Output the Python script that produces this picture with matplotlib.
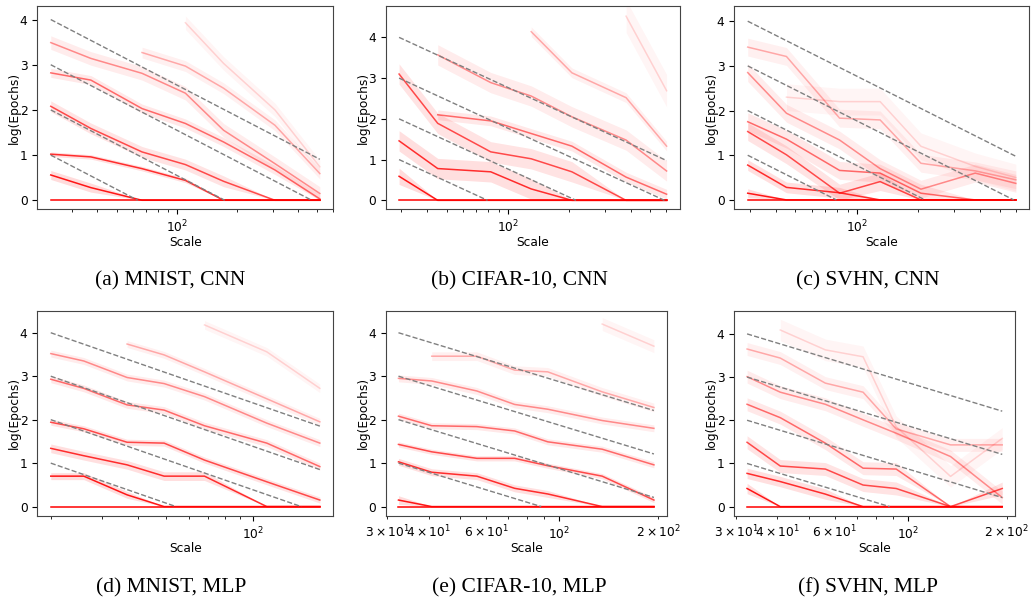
import numpy as np
import matplotlib
matplotlib.use("Agg")
import matplotlib.pyplot as plt

nan = np.nan

# Model scale for each setting (log-spaced widths)
scale_mnist_cnn = [23.4, 37.1, 66.8, 110, 170.6, 308, 516]
scale_32px_cnn = [29.2, 45.2, 82.3, 130, 206, 380, 601]
scale_mnist_mlp = [19.9, 25.9, 36.6, 49.2, 67.9, 111.7, 170.6]
scale_32px_mlp = [32.4, 40.9, 56.1, 73.1, 92.2, 135, 194]

# log(epochs) needed to reach each accuracy target (darkest = easiest target)
mnist_cnn = [
    [0, 0, 0, 0, 0, 0, 0],
    [0.56, 0.28, 0, 0, 0, 0, 0],
    [1.02, 0.96, 0.70, 0.44, 0, 0, 0],
    [2.08, 1.59, 1.07, 0.79, 0.42, 0, 0],
    [2.82, 2.66, 2.03, 1.70, 1.29, 0.67, 0.03],
    [3.49, 3.14, 2.81, 2.37, 1.55, 0.81, 0.15],
    [nan, nan, 3.27, 2.97, 2.48, 1.66, 0.59],
    [nan, nan, nan, 3.93, 3.03, 2.00, 0.74],
]
cifar_cnn = [
    [0, 0, 0, 0, 0, 0, 0],
    [0.59, 0, 0, 0, 0, 0, 0],
    [1.46, 0.78, 0.70, 0.28, 0, 0, 0],
    [3.10, 1.89, 1.19, 1.02, 0.70, 0, 0],
    [nan, 2.10, 1.95, 1.64, 1.33, 0.57, 0.15],
    [nan, 3.57, 2.89, 2.56, 2.05, 1.48, 0.72],
    [nan, nan, nan, 4.14, 3.13, 2.52, 1.33],
    [nan, nan, nan, nan, nan, 4.52, 2.69],
]
svhn_cnn = [
    [0, 0, 0, 0, 0, 0, 0],
    [0.15, 0, 0, 0, 0, 0, 0],
    [0.78, 0.28, 0.16, 0, 0, 0, 0],
    [1.53, 1.01, 0.15, 0.41, 0, 0, 0],
    [1.75, 1.36, 0.66, 0.60, 0.15, 0, 0],
    [2.85, 1.94, 1.34, 0.70, 0.24, 0.60, 0.37],
    [3.42, 3.21, 1.83, 1.79, 0.82, 0.65, 0.45],
    [nan, 2.30, 2.20, 2.20, 1.20, 0.75, 0.50],
]
mnist_mlp = [
    [0, 0, 0, 0, 0, 0, 0],
    [0.70, 0.70, 0.27, 0, 0, 0, 0],
    [1.34, 1.17, 0.96, 0.70, 0.70, 0, 0],
    [1.94, 1.79, 1.48, 1.46, 1.07, 0.57, 0.15],
    [2.93, 2.72, 2.34, 2.22, 1.86, 1.46, 0.92],
    [3.52, 3.35, 2.97, 2.83, 2.53, 1.92, 1.46],
    [nan, nan, 3.74, 3.49, 3.10, 2.48, 1.95],
    [nan, nan, nan, nan, 4.18, 3.56, 2.72],
]
cifar_mlp = [
    [0, 0, 0, 0, 0, 0, 0],
    [0.15, 0, 0, 0, 0, 0, 0],
    [1.03, 0.79, 0.70, 0.42, 0.29, 0, 0],
    [1.43, 1.26, 1.11, 1.11, 0.94, 0.70, 0.15],
    [2.08, 1.86, 1.84, 1.74, 1.49, 1.32, 0.96],
    [2.95, 2.89, 2.66, 2.35, 2.24, 1.98, 1.80],
    [nan, 3.46, 3.46, 3.14, 3.10, 2.64, 2.28],
    [nan, nan, nan, nan, nan, 4.20, 3.69],
]
svhn_mlp = [
    [0, 0, 0, 0, 0, 0, 0],
    [0.42, 0, 0, 0, 0, 0, 0],
    [0.77, 0.58, 0.29, 0, 0, 0, 0],
    [1.49, 0.94, 0.87, 0.50, 0.42, 0, 0.42],
    [2.37, 2.06, 1.47, 0.89, 0.87, 0, 0],
    [3.01, 2.65, 2.37, 2.01, 1.70, 1.16, 0.21],
    [3.65, 3.44, 2.86, 2.65, 1.80, 1.43, 1.43],
    [nan, 4.09, 3.63, 3.47, 1.85, 0.70, 1.58],
]

# Seed-to-seed spread (half width of the shaded band) per target
spread_mnist_cnn = [0, 0.10, 0.05, 0.12, 0.10, 0.15, 0.12, 0.15]
spread_cifar_cnn = [0, 0.20, 0.25, 0.25, 0.12, 0.25, 0.12, 0.40]
spread_svhn_cnn = [0, 0.10, 0.12, 0.20, 0.20, 0.20, 0.20, 0.30]
spread_mnist_mlp = [0, 0.08, 0.10, 0.07, 0.08, 0.08, 0.08, 0.10]
spread_cifar_mlp = [0, 0.10, 0.08, 0.06, 0.07, 0.08, 0.10, 0.15]
spread_svhn_mlp = [0, 0.12, 0.12, 0.15, 0.15, 0.15, 0.15, 0.25]

# Intercepts of the slope -1 reference lines
ref_intercepts = [1, 2, 3, 4]

captions = ["(a) MNIST, CNN", "(b) CIFAR-10, CNN", "(c) SVHN, CNN",
            "(d) MNIST, MLP", "(e) CIFAR-10, MLP", "(f) SVHN, MLP"]

panels = [
    (scale_mnist_cnn, mnist_cnn, spread_mnist_cnn, (-0.20, 4.30)),
    (scale_32px_cnn, cifar_cnn, spread_cifar_cnn, (-0.22, 4.77)),
    (scale_32px_cnn, svhn_cnn, spread_svhn_cnn, (-0.21, 4.34)),
    (scale_mnist_mlp, mnist_mlp, spread_mnist_mlp, (-0.21, 4.50)),
    (scale_32px_mlp, cifar_mlp, spread_cifar_mlp, (-0.21, 4.50)),
    (scale_32px_mlp, svhn_mlp, spread_svhn_mlp, (-0.21, 4.53)),
]

W, H = 1031, 605
# axes boxes in pixels: left, top, right, bottom
boxes = [
    (37.3, 6, 333.3, 209.3), (385.7, 6, 680, 209.3), (734.3, 6, 1029.3, 209.3),
    (37.3, 311, 333.3, 515.7), (385.7, 311, 666.7, 515.7), (734.3, 311, 1015, 515.7),
]
caption_xy = [(170, 281), (519, 281), (868, 281), (171, 588), (519, 588), (868, 588)]

line_alpha = [1.0, 0.9, 0.8, 0.68, 0.55, 0.42, 0.3, 0.15]
FS = 8.8

fig = plt.figure(figsize=(W / 100, H / 100), dpi=100)

for (xs, curves, spreads, ylim), (l, t, r, b), cap, (cx, cy) in zip(
        panels, boxes, captions, caption_xy):
    ax = fig.add_axes([l / W, 1 - b / H, (r - l) / W, (b - t) / H])
    x = np.array(xs, dtype=float)
    for k in range(len(curves) - 1, -1, -1):
        y = np.array(curves[k], dtype=float)
        s = np.where(y > 0, spreads[k], 0.0)
        a = line_alpha[k]
        ax.fill_between(x, np.clip(y - s, 0, None), y + s, color="red",
                        alpha=0.13 * a + 0.02, linewidth=0)
        ax.plot(x, y, color="red", alpha=a, linewidth=1.1)
    # reference lines: log(epochs) = c - ln(scale / scale_0), stopped at zero
    x0, x1 = x[0], x[-1]
    for c in ref_intercepts:
        xe = min(x0 * np.exp(c), x1)
        ax.plot([x0, xe], [c, c - np.log(xe / x0)], color="gray",
                linestyle="--", linewidth=1.0)
    ax.set_xscale("log")
    ax.set_ylim(*ylim)
    ax.set_yticks([0, 1, 2, 3, 4])
    ax.tick_params(labelsize=FS, which="both")
    ax.set_xlabel("Scale", fontsize=FS, labelpad=0)
    ax.set_ylabel("log(Epochs)", fontsize=FS, labelpad=-1)
    for sp in ax.spines.values():
        sp.set_color("#444444")
    fig.text(cx / W, 1 - cy / H, cap, ha="center", va="center",
             fontsize=15.5, family="Liberation Serif")

fig.savefig("out.png", dpi=100)
